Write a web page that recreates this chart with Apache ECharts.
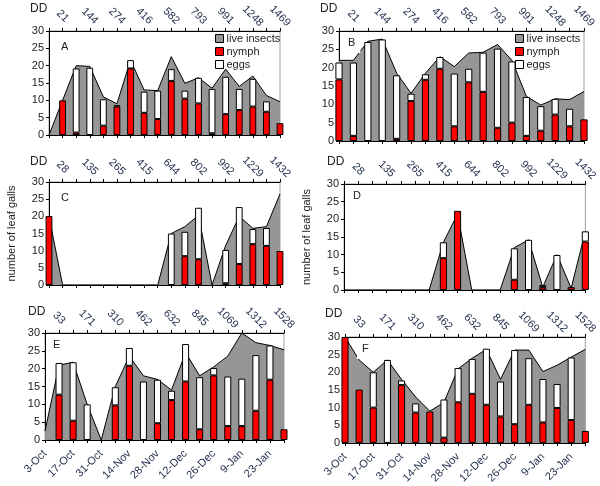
<!DOCTYPE html>
<html><head><meta charset="utf-8">
<script src="https://cdn.jsdelivr.net/npm/echarts@6/dist/echarts.min.js"></script>
<style>html,body{margin:0;padding:0;background:#fff}#c{width:600px;height:486px}</style>
</head><body><div id="c"></div>
<script>
// ---- data ----
const dates = ['3-Oct','10-Oct','17-Oct','24-Oct','31-Oct','7-Nov','14-Nov','21-Nov','28-Nov','5-Dec','12-Dec','19-Dec','26-Dec','2-Jan','9-Jan','16-Jan','23-Jan','30-Jan'];
const ddAB = ['21','144','274','416','582','793','991','1248','1469'];
const ddCD = ['28','135','265','415','644','802','992','1229','1432'];
const ddEF = ['33','171','310','462','632','845','1069','1312','1528'];
const yTicks = [0,5,10,15,20,25,30];

const liveA  = [0,10,20,19.8,11,9,21.6,13,12.8,22.6,14.9,16.5,13.5,19,14,17,11.4,9.6];
const nymphA = [0,10,0.7,0,2.7,8.2,19.2,6.4,4.6,15.6,10.5,9.1,0.5,6,7.2,8.2,6.7,3.4];
const eggsA  = [0,0,18.5,19.4,7.6,0.4,2.4,6.1,8.2,3.4,2.3,7.4,12.8,10.8,6.1,8,3,0];

const liveB  = [22,22,27.2,27.8,18.5,13,18.5,23,20.3,24,24.2,26.3,22,12.2,9.8,11.5,11.3,13.5];
const nymphB = [16.8,1.4,0,0,0.6,10.9,16.7,19.7,4,16,13.4,3.6,5,1.4,2.8,7.2,4,5.9];
const eggsB  = [4.6,20,27,27.7,17.3,2,1.5,3.2,14.4,3.7,10.7,21.6,16.7,10.6,6.7,4.3,4.8,0];

const liveC  = [20,0,0,0,0,0,0,0,0,15,17,20.3,0,11.5,20,16.5,17,26.5];
const nymphC = [20.1,0,0,0,0,0,0,0,0,0,8.4,7.5,0,0.5,6.1,11.9,11.4,9.9];
const eggsC  = [0,0,0,0,0,0,0,0,0,15,7.1,15,0,9.7,16.6,4.4,5.2,0];

const liveD  = [0,0,0,0,0,0,0,13.5,21.5,0,0,0,12,14.2,0.8,10,0.5,16.5];
const nymphD = [0,0,0,0,0,0,0,9,22.4,0,0,0,2.9,0,0.8,0,0.8,13.7];
const eggsD  = [0,0,0,0,0,0,0,4.5,0,0,0,0,8.9,14.2,0.6,9.9,0,2.9];

const liveE  = [2.5,21,21.8,10,0,15,23.5,18,17,14,24.5,18,20.5,23.5,30,27.3,26.5,25.3];
const nymphE = [0,12.7,5.4,0,0,9.7,20.8,0,4.7,11.2,16.4,3,18.1,3.9,3.9,8.2,16.9,3];
const eggsE  = [0,8.9,16.4,10,0,5.1,5,16.4,12.2,2.6,10.5,14.6,2.1,13.9,13.3,15.6,9.6,0];

const liveF  = [30,23.5,20,23.5,18,13,9,11.5,21,24,26.5,18,26.3,26.3,20.2,22,24.3,26.5];
const nymphF = [30,15.1,10,0,16.4,8.6,8.9,1.5,11.5,13.9,10.8,7.5,5.3,10.8,5.8,9.9,6.5,3.4];
const eggsF  = [0,0,10,23.5,1.3,2.6,0,10.8,9.7,9.9,15.9,9.9,21,13.2,12.3,6.8,17.7,0];

// ---- layout ----
const FONT = 'Liberation Sans';
const panels = [
  {id:'A', live:liveA, nymph:nymphA, eggs:eggsA, dd:ddAB, g:{left:49, top:31, width:231, height:104}, dates:false, yName:''},
  {id:'B', live:liveB, nymph:nymphB, eggs:eggsB, dd:ddAB, g:{left:339, top:31, width:245, height:110}, dates:false, yName:''},
  {id:'C', live:liveC, nymph:nymphC, eggs:eggsC, dd:ddCD, g:{left:49, top:182, width:231, height:103}, dates:false, yName:'number of leaf galls'},
  {id:'D', live:liveD, nymph:nymphD, eggs:eggsD, dd:ddCD, g:{left:344, top:184, width:242, height:106}, dates:false, yName:'number of leaf galls'},
  {id:'E', live:liveE, nymph:nymphE, eggs:eggsE, dd:ddEF, g:{left:45, top:333, width:239, height:107}, dates:true, yName:''},
  {id:'F', live:liveF, nymph:nymphF, eggs:eggsF, dd:ddEF, g:{left:345, top:337, width:244, height:107}, dates:true, yName:''}
];
const letterPos = [[62,46],[349,42],[62,197],[354,195],[54,344],[363,348]];
const ddPos = [[39,10],[329,10],[39,163],[336,163],[37,313],[334,315]];
const noZero = arr => arr.map(v => v === 0 ? null : v);

const grid=[], xAxis=[], yAxis=[], series=[], graphic=[];
panels.forEach((p,i)=>{
  grid.push(Object.assign({show:true, borderColor:'#a0a0a0', borderWidth:1, backgroundColor:'transparent'}, p.g));
  const topCats = dates.map((d,k)=> k%2===1 ? p.dd[(k-1)/2] : '');
  xAxis.push({type:'category', gridIndex:i, data:dates, boundaryGap:false, position:'bottom',
    axisLine:{lineStyle:{color:'#000',width:1}},
    axisTick:{show:true, interval:0, length:3, lineStyle:{color:'#000'}},
    axisLabel:{show:p.dates, interval:1, rotate:45, margin:12, fontSize:11, color:'#1f2d4a', fontFamily:FONT},
    splitLine:{show:false}});
  xAxis.push({type:'category', gridIndex:i, data:topCats, boundaryGap:false, position:'top',
    axisLine:{lineStyle:{color:'#000',width:1}},
    axisTick:{show:true, interval:0, length:3, lineStyle:{color:'#000'}},
    axisLabel:{show:true, interval:0, rotate:45, align:'center', margin:15, fontSize:11, color:'#1f2d4a', fontFamily:FONT},
    splitLine:{show:false}});
  yAxis.push({type:'value', gridIndex:i, min:yTicks[0], max:yTicks[yTicks.length-1], interval:yTicks[1]-yTicks[0],
    name:p.yName, nameLocation:'middle', nameGap:32, nameRotate:90,
    nameTextStyle:{fontSize:11, color:'#222', fontFamily:FONT},
    axisLine:{show:true, lineStyle:{color:'#000',width:1}},
    axisTick:{show:true, length:3, lineStyle:{color:'#000'}},
    axisLabel:{fontSize:11, color:'#222', margin:5, fontFamily:FONT},
    splitLine:{show:false}});
  series.push({type:'line', name:'live insects', xAxisIndex:2*i, yAxisIndex:i, data:p.live, symbol:'none',
    lineStyle:{color:'#000', width:1}, itemStyle:{color:'#969696', borderColor:'#000', borderWidth:1},
    areaStyle:{color:'#969696', opacity:1}, z:1});
  series.push({type:'bar', name:'nymph', xAxisIndex:2*i, yAxisIndex:i, stack:'s'+p.id, data:noZero(p.nymph), barWidth:'50%',
    itemStyle:{color:'#ff0000', borderColor:'#000', borderWidth:1}, z:2});
  series.push({type:'bar', name:'eggs', xAxisIndex:2*i, yAxisIndex:i, stack:'s'+p.id, data:noZero(p.eggs), barWidth:'50%',
    itemStyle:{color:'#ffffff', borderColor:'#000', borderWidth:1}, z:2});
  graphic.push({type:'text', left:letterPos[i][0]-6, top:letterPos[i][1]-10, z:100,
    style:{text:p.id, fontSize:11, fontFamily:FONT, fill:'#222', backgroundColor:'#fff', padding:[5,5,5,5]}});
  graphic.push({type:'text', left:ddPos[i][0]-9, top:ddPos[i][1]-7, z:100,
    style:{text:'DD', fontSize:12, fontFamily:FONT, fill:'#222'}});
});

const legendBase = {orient:'vertical', itemWidth:8, itemHeight:8, itemGap:2, icon:'rect',
  data:['live insects','nymph','eggs'], selectedMode:false,
  textStyle:{fontSize:11, color:'#222', fontFamily:FONT, padding:[0,0,0,-2]},
  itemStyle:{borderColor:'#000', borderWidth:1}};

const chart = echarts.init(document.getElementById('c'), null, {renderer:'canvas'});
chart.setOption({
  animation:false,
  backgroundColor:'#fff',
  grid, xAxis, yAxis, series, graphic,
  legend:[Object.assign({left:210, top:28}, legendBase), Object.assign({left:510, top:28}, legendBase)]
});
</script></body></html>
